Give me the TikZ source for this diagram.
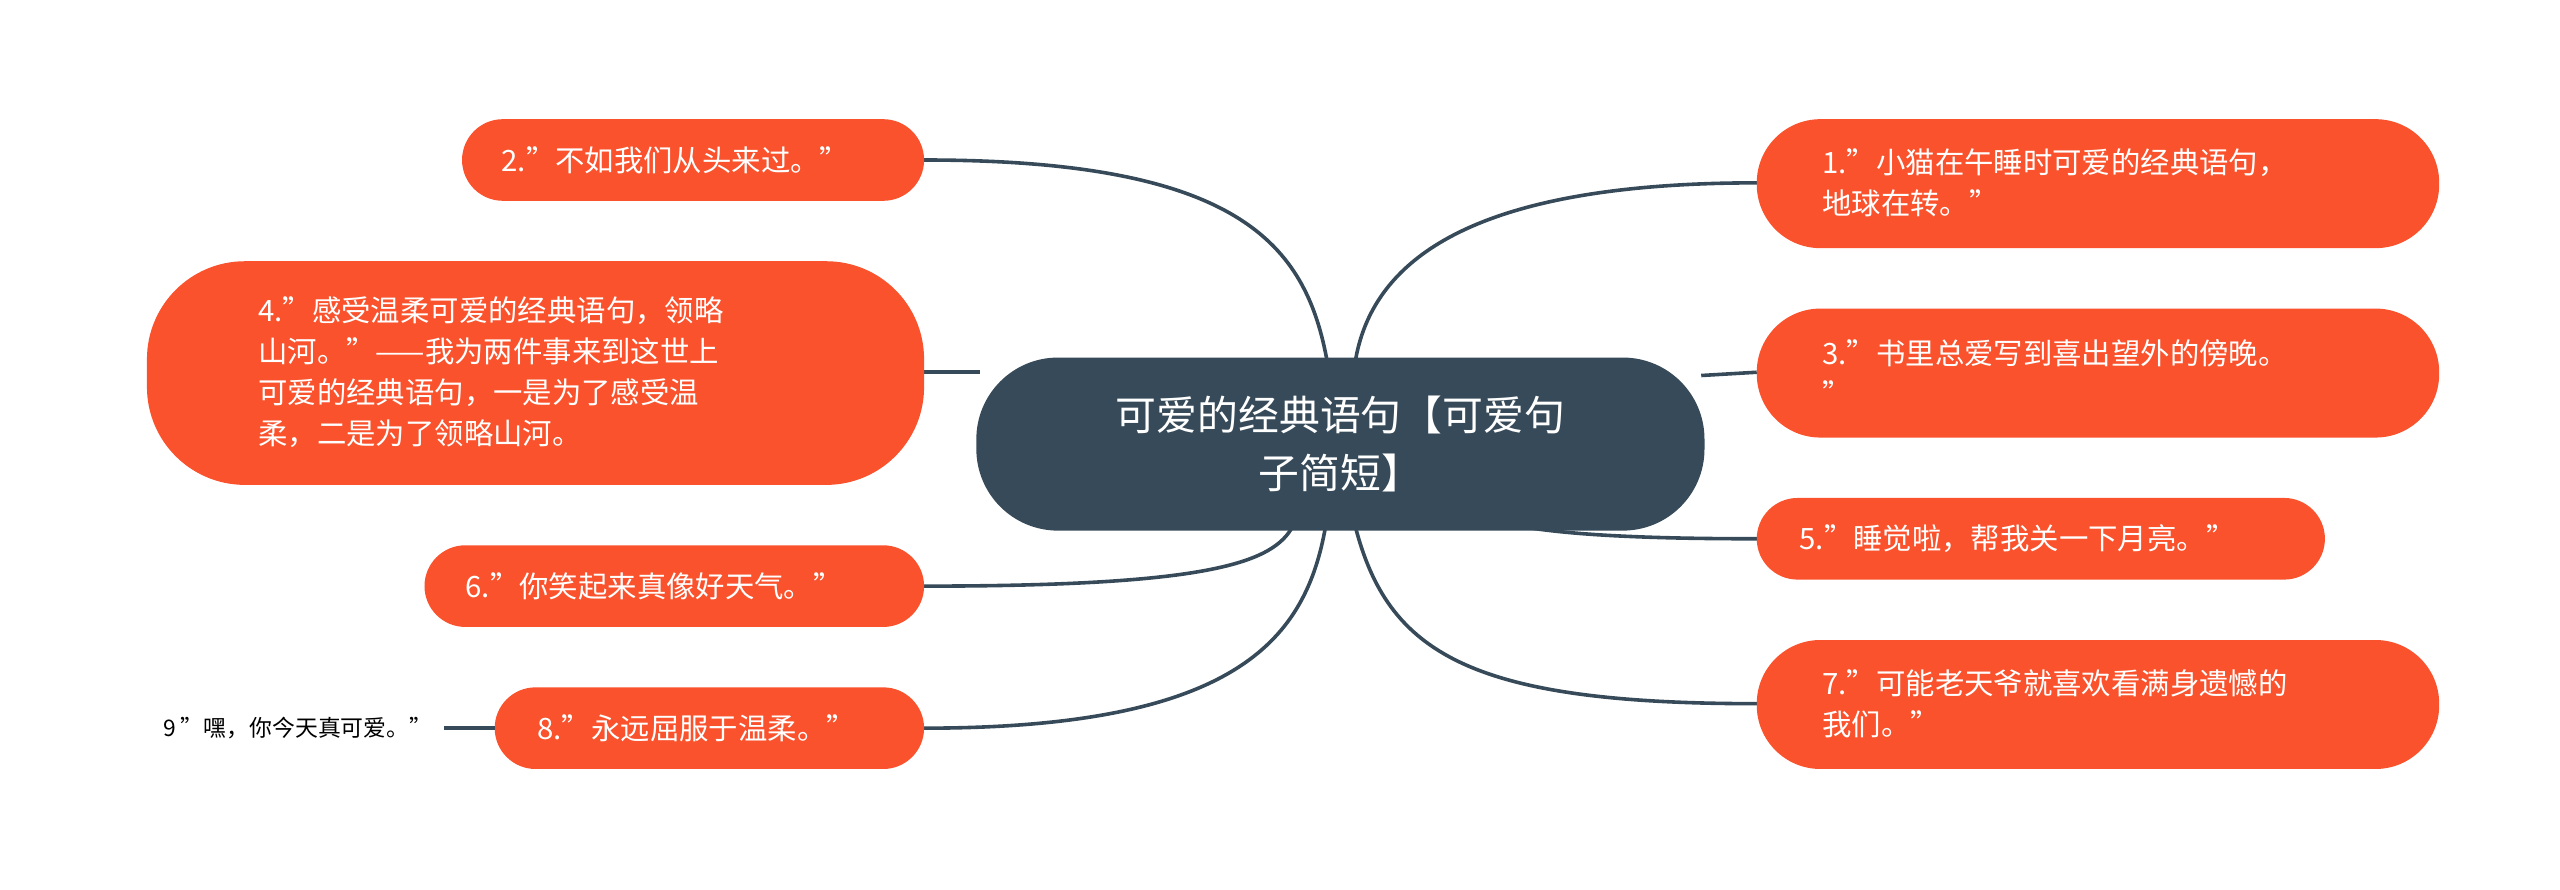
\documentclass[tikz,border=0pt]{standalone}
\usepackage{fontspec}
\setmainfont{Noto Sans CJK SC}
\begin{document}
\begin{tikzpicture}[x=1pt,y=-1pt,
 leaf/.style={fill=orangeA,rounded corners=25pt,draw=none},
 lt/.style={text=white,font=\fontsize{18}{25}\selectfont,align=left,anchor=west,inner sep=0},
 con/.style={draw=lineC,line width=2.2pt}]
\definecolor{orangeA}{HTML}{F9522C}
\definecolor{centerC}{HTML}{364A59}
\definecolor{lineC}{HTML}{364A59}
\useasboundingbox (0,0) rectangle (1568,545);
% connectors
\coordinate (c2) at (813,222); \coordinate (c1) at (830,222);
\coordinate (c4) at (600,228); \coordinate (c3) at (1042,230);
\coordinate (c6) at (792,322); \coordinate (c8) at (812,322);
\coordinate (c5) at (935,323); \coordinate (c7) at (830,322);
\coordinate (e2) at (566,98); \coordinate (e4) at (566,228);
\coordinate (e6) at (566,359); \coordinate (e8) at (566,446);
\coordinate (e1) at (1076,112); \coordinate (e3) at (1076,228);
\coordinate (e5) at (1076,330); \coordinate (e7) at (1076,431);
\draw[con] (e2) .. controls (760,98) and (800,150) .. (c2);
\draw[con] (e4) -- (c4);
\draw[con] (e6) .. controls (740,359) and (780,345) .. (c6);
\draw[con] (e8) .. controls (760,446) and (800,390) .. (c8);
\draw[con] (e1) .. controls (900,112) and (840,160) .. (c1);
\draw[con] (e3) -- (c3);
\draw[con] (e5) .. controls (1000,330) and (960,327) .. (c5);
\draw[con] (e7) .. controls (900,431) and (850,400) .. (c7);
% center
\fill[centerC,rounded corners=50pt] (598,219) rectangle (1044,325);
\node[text=white,font=\fontsize{25}{36}\selectfont,align=center] (c) at (821,272) {可爱的经典语句【可爱句\\子简短】};
% right
\fill[leaf,rounded corners=39pt] (1076,73) rectangle (1494,152);
\node[lt] (n1) at (1116,112) {1."小猫在午睡时可爱的经典语句，\\地球在转。"};
\fill[leaf,rounded corners=39pt] (1076,189) rectangle (1494,268);
\node[lt] (n3) at (1116,228) {3."书里总爱写到喜出望外的傍晚。\\"};
\fill[leaf] (1076,305) rectangle (1424,355);
\node[lt] (n5) at (1102,330) {5."睡觉啦，帮我关一下月亮。"};
\fill[leaf,rounded corners=39pt] (1076,392) rectangle (1494,471);
\node[lt] (n7) at (1116,431) {7."可能老天爷就喜欢看满身遗憾的\\我们。"};
% left
\fill[leaf] (283,73) rectangle (566,123);
\node[lt] (n2) at (307,98) {2."不如我们从头来过。"};
\fill[leaf,rounded corners=60pt] (90,160) rectangle (566,297);
\node[lt] (n4) at (158,228) {4."感受温柔可爱的经典语句，领略\\山河。"——我为两件事来到这世上\\可爱的经典语句，一是为了感受温\\柔，二是为了领略山河。};
\fill[leaf] (260,334) rectangle (566,384);
\node[lt] (n6) at (285,359) {6."你笑起来真像好天气。"};
\fill[leaf] (303,421) rectangle (566,471);
\node[lt] (n8) at (329,446) {8."永远屈服于温柔。"};
\node[anchor=east,font=\fontsize{14}{18}\selectfont,inner sep=0] (n9) at (265,446) {9 "嘿，你今天真可爱。"};
\draw[con] (272,446) -- (303,446);
\end{tikzpicture}
\end{document}
